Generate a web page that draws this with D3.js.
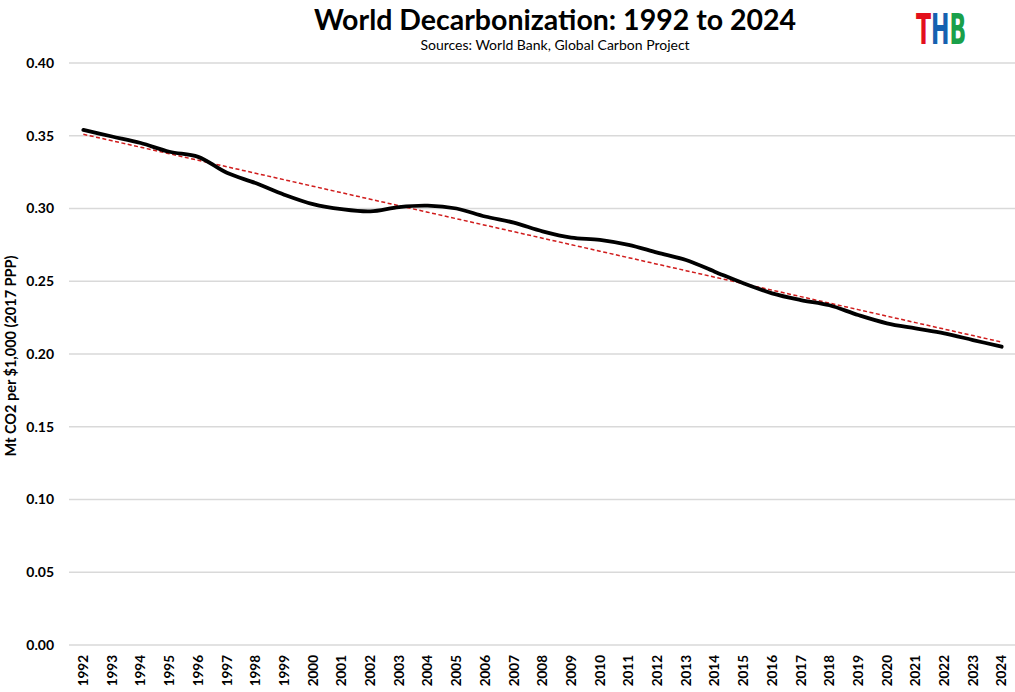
<!DOCTYPE html>
<html>
<head>
<meta charset="utf-8">
<script src="https://cdn.jsdelivr.net/npm/d3@7"></script>
<style>
  body { margin: 0; background: #fff; }
  text { font-family: Lato, "Open Sans", sans-serif; }
</style>
</head>
<body>
<svg id="chart" width="1015" height="692"></svg>
<script>
// years on the category axis
const years = d3.range(1992, 2025).map(String);

// Mt CO2 per $1,000 GDP (2017 PPP)
const intensity = [
  0.354, 0.3495, 0.345, 0.339, 0.3355, 0.3245, 0.3175, 0.3095, 0.303, 0.2995,
  0.298, 0.301, 0.302, 0.3, 0.2945, 0.2903, 0.2843, 0.28, 0.2785, 0.275,
  0.2697, 0.2646, 0.2566, 0.2486, 0.2417, 0.2371, 0.2335, 0.2268, 0.2211, 0.2176,
  0.2142, 0.2096, 0.205
];

const yTicks = [0, 0.05, 0.1, 0.15, 0.2, 0.25, 0.3, 0.35, 0.4];

// logo letters and their colours
const logoLetters = ["T", "H", "B"];
const logoColors = ["#e3101c", "#1561b0", "#1aa04a"];

const margin = {top: 63, right: 0, bottom: 47, left: 69};
const width = 1015, height = 692;

const svg = d3.select("#chart");

const x = d3.scaleBand()
  .domain(years)
  .range([margin.left, 1016]);

const y = d3.scaleLinear()
  .domain([0, 0.4])
  .range([height - margin.bottom, margin.top]);

// horizontal gridlines
svg.append("g")
  .selectAll("line")
  .data(yTicks)
  .enter()
  .append("line")
  .attr("x1", margin.left)
  .attr("x2", width)
  .attr("y1", d => y(d))
  .attr("y2", d => y(d))
  .attr("stroke", "#d9d9d9")
  .attr("stroke-width", 1.5);

// y axis labels
const yAxis = svg.append("g")
  .attr("transform", `translate(${margin.left},0)`)
  .call(d3.axisLeft(y).tickValues(yTicks).tickFormat(d3.format(".2f")).tickSize(0).tickPadding(15));
yAxis.select(".domain").remove();
yAxis.selectAll("text")
  .style("font-family", "Lato, sans-serif")
  .style("font-size", "14px")
  .style("font-weight", "bold")
  .attr("fill", "#000");

// x axis labels, rotated
const xAxis = svg.append("g")
  .attr("transform", `translate(0,${y(0)})`)
  .call(d3.axisBottom(x).tickSize(0));
xAxis.select(".domain").remove();
xAxis.selectAll("text")
  .style("font-family", "Lato, sans-serif")
  .style("font-size", "13.5px")
  .style("font-weight", "bold")
  .attr("fill", "#000")
  .attr("transform", "rotate(-90)")
  .attr("text-anchor", "end")
  .attr("x", -10)
  .attr("y", 0)
  .attr("dy", "0.35em");

// linear trend (least squares on the series, like a spreadsheet trendline)
const n = intensity.length;
const idx = d3.range(n);
const mx = d3.mean(idx), my = d3.mean(intensity);
const slope = d3.sum(idx, i => (i - mx) * (intensity[i] - my)) / d3.sum(idx, i => (i - mx) ** 2);
const intercept = my - slope * mx;

const cx = i => x(years[i]) + x.bandwidth() / 2;

svg.append("path")
  .datum(idx)
  .attr("fill", "none")
  .attr("stroke", "#d01c1c")
  .attr("stroke-width", 1.5)
  .attr("stroke-dasharray", "4,2.5")
  .attr("d", d3.line().x(i => cx(i)).y(i => y(intercept + slope * i)));

// the series
svg.append("path")
  .datum(intensity)
  .attr("fill", "none")
  .attr("stroke", "#000")
  .attr("stroke-width", 3.8)
  .attr("stroke-linecap", "round")
  .attr("stroke-linejoin", "round")
  .attr("d", d3.line().x((d, i) => cx(i)).y(d => y(d)).curve(d3.curveCatmullRom.alpha(0.5)));

// titles
svg.append("text")
  .attr("x", 555).attr("y", 30)
  .attr("text-anchor", "middle")
  .style("font-size", "28.5px")
  .style("font-weight", "bold")
  .text("World Decarbonization: 1992 to 2024");

svg.append("text")
  .attr("x", 555).attr("y", 50)
  .attr("text-anchor", "middle")
  .style("font-size", "14px")
  .text("Sources: World Bank, Global Carbon Project");

svg.append("text")
  .attr("transform", "translate(16,356) rotate(-90)")
  .attr("text-anchor", "middle")
  .style("font-size", "14.5px")
  .style("font-weight", "bold")
  .text("Mt CO2 per $1,000 (2017 PPP)");

// logo, squeezed horizontally like a condensed face
const logo = svg.append("text")
  .attr("transform", "translate(916,44) scale(0.57,1)")
  .style("font-family", "'Liberation Sans Narrow', 'DejaVu Sans Condensed', sans-serif")
  .style("font-size", "43px")
  .style("font-weight", "bold");
logo.selectAll("tspan")
  .data(logoLetters)
  .enter()
  .append("tspan")
  .attr("fill", (d, i) => logoColors[i])
  .text(d => d);
</script>
</body>
</html>
